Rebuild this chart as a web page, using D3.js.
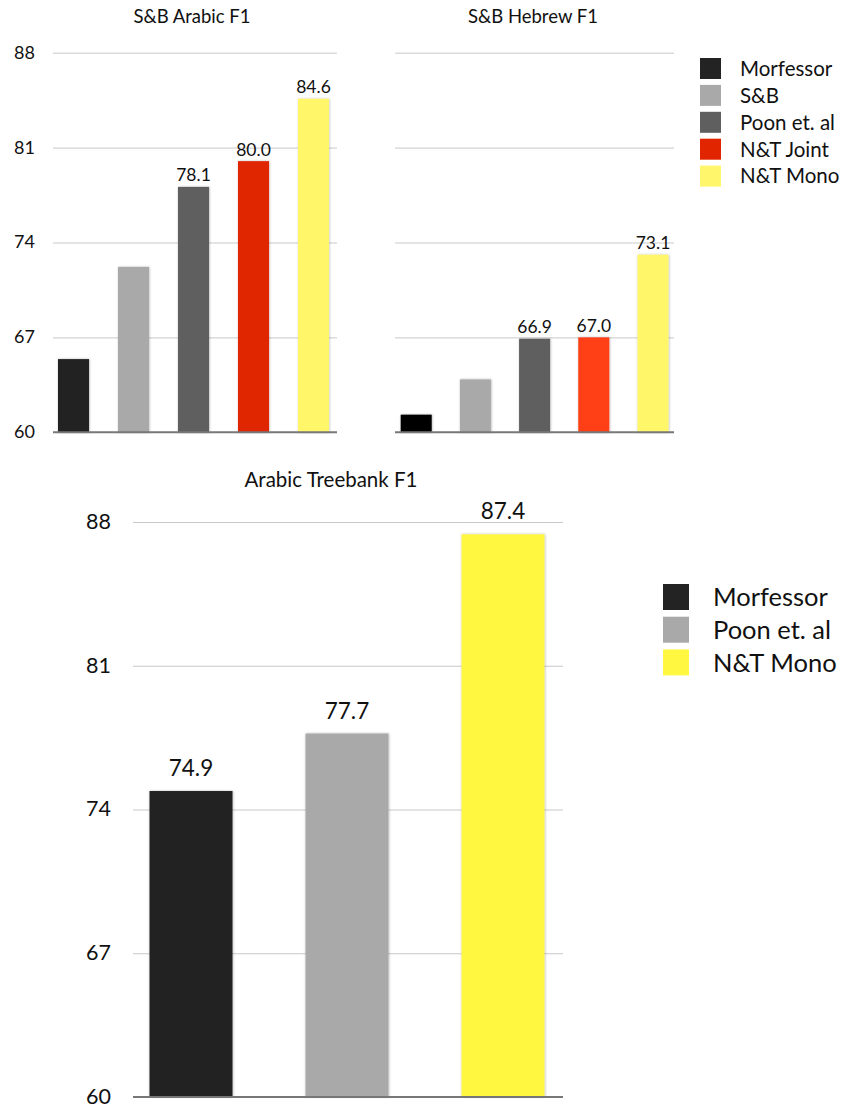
<!DOCTYPE html>
<html>
<head>
<meta charset="utf-8">
<script src="https://cdn.jsdelivr.net/npm/d3@7"></script>
<style>
  html, body { margin: 0; padding: 0; background: #fff; }
  svg { display: block; font-family: Lato, "Open Sans", sans-serif; }
</style>
</head>
<body>
<svg id="chart" width="850" height="1108"></svg>
<script>
// Segmentation F1 scores
const methodsSB = ["Morfessor", "S&B", "Poon et. al", "N&T Joint", "N&T Mono"];
const arabicSB = [65.4, 72.2, 78.1, 80.0, 84.6];
const hebrewSB = [61.3, 63.9, 66.9, 67.0, 73.1];
const labeledSB = ["Poon et. al", "N&T Joint", "N&T Mono"];

const methodsATB = ["Morfessor", "Poon et. al", "N&T Mono"];
const arabicATB = [74.9, 77.7, 87.4];

const yTicks = [60, 67, 74, 81, 88];

const coloursArabic = ["#232323", "#a9a9a9", "#5f5f5f", "#e02500", "#fff66b"];
const coloursHebrew = ["#050505", "#a9a9a9", "#5f5f5f", "#ff4115", "#fff66b"];
const coloursATB = ["#232323", "#a9a9a9", "#fff740"];

const svg = d3.select("#chart");
svg.append("rect").attr("width", 850).attr("height", 1108).attr("fill", "#fff");

const defs = svg.append("defs");
const f = defs.append("filter").attr("id", "shade")
  .attr("x", "-20%").attr("y", "-5%").attr("width", "140%").attr("height", "110%");
f.append("feDropShadow").attr("dx", 0.5).attr("dy", 0).attr("stdDeviation", 1.1)
  .attr("flood-color", "#000").attr("flood-opacity", 0.3);

function barPanel(opt) {
  const g = svg.append("g");
  const y = d3.scaleLinear().domain([60, 88]).range([opt.y0, opt.y1]);
  const x = d3.scaleBand().domain(opt.cats).range(opt.xRange)
    .paddingInner(opt.pad).paddingOuter(opt.pad / 2);

  // gridlines
  const grid = g.append("g").attr("transform", `translate(${opt.gx1},0)`)
    .call(d3.axisLeft(y).tickValues(yTicks.slice(1)).tickSize(opt.gx1 - opt.gx0).tickFormat(""));
  grid.select(".domain").remove();
  grid.selectAll("line").attr("stroke", "#c9c9c9").attr("stroke-width", 1);

  // tick labels
  if (opt.showTicks) {
    const ax = g.append("g").attr("transform", `translate(${opt.tx},0)`)
      .call(d3.axisLeft(y).tickValues(yTicks).tickSize(0).tickPadding(0).tickFormat(d3.format("d")));
    ax.select(".domain").remove();
    ax.selectAll("text").attr("font-size", opt.tickSize).attr("fill", "#111")
      .attr("dy", "0.3em")
      .attr("font-family", "Lato, sans-serif");
  }

  // bars
  g.append("g").selectAll("rect").data(opt.values).join("rect")
    .attr("x", (d, i) => x(opt.cats[i]))
    .attr("width", x.bandwidth())
    .attr("y", d => y(d))
    .attr("height", d => y(60) - y(d))
    .attr("fill", (d, i) => opt.colours[i])
    .attr("filter", "url(#shade)");

  // baseline
  g.append("line").attr("x1", opt.gx0).attr("x2", opt.gx1)
    .attr("y1", y(60)).attr("y2", y(60))
    .attr("stroke", "#777").attr("stroke-width", 2);

  // value labels
  g.append("g").selectAll("text")
    .data(opt.values.map((v, i) => ({ v, c: opt.cats[i] })).filter(d => opt.labeled.includes(d.c)))
    .join("text")
    .attr("x", d => x(d.c) + x.bandwidth() / 2)
    .attr("y", d => y(d.v) - opt.labelGap)
    .attr("text-anchor", "middle")
    .attr("font-size", opt.labelSize)
    .attr("fill", "#111")
    .text(d => d3.format(".1f")(d.v));

  // title
  g.append("text").attr("x", opt.titleX).attr("y", opt.titleY)
    .attr("text-anchor", "middle").attr("font-size", opt.titleSize).attr("fill", "#111")
    .text(opt.title);
}

function legend(opt) {
  const g = svg.append("g");
  const rows = g.selectAll("g").data(opt.cats).join("g")
    .attr("transform", (d, i) => `translate(${opt.x},${opt.y + i * opt.step})`);
  rows.append("rect").attr("width", opt.size).attr("height", opt.size)
    .attr("fill", (d, i) => opt.colours[i]);
  rows.append("text").attr("x", opt.textX).attr("y", opt.size / 2)
    .attr("dy", "0.36em").attr("font-size", opt.fontSize).attr("fill", "#111")
    .text(d => d);
}

barPanel({
  title: "S&B Arabic F1", titleX: 192, titleY: 23, titleSize: 18.5,
  cats: methodsSB, values: arabicSB, colours: coloursArabic, labeled: labeledSB,
  y0: 432.3, y1: 52.7, xRange: [43.5, 343.5], pad: 0.483,
  gx0: 53, gx1: 337, showTicks: true, tx: 35, tickSize: 18,
  labelSize: 17.5, labelGap: 5.5
});

barPanel({
  title: "S&B Hebrew F1", titleX: 533, titleY: 23, titleSize: 18.5,
  cats: methodsSB, values: hebrewSB, colours: coloursHebrew, labeled: labeledSB,
  y0: 432.3, y1: 52.7, xRange: [386.6, 682.6], pad: 0.476,
  gx0: 395, gx1: 674, showTicks: false,
  labelSize: 17.5, labelGap: 5.5
});

legend({ cats: methodsSB, colours: coloursArabic, x: 700, y: 58, step: 26.9, size: 21, textX: 40, fontSize: 20.5 });

barPanel({
  title: "Arabic Treebank F1", titleX: 331, titleY: 487, titleSize: 20.5,
  cats: methodsATB, values: arabicATB, colours: coloursATB, labeled: methodsATB,
  y0: 1097, y1: 522, xRange: [113, 581], pad: 0.468,
  gx0: 133, gx1: 563, showTicks: true, tx: 111, tickSize: 21.5,
  labelSize: 22.5, labelGap: 15
});

legend({ cats: methodsATB, colours: coloursATB, x: 663, y: 584, step: 32.7, size: 26, textX: 50, fontSize: 25.5 });
</script>
</body>
</html>
